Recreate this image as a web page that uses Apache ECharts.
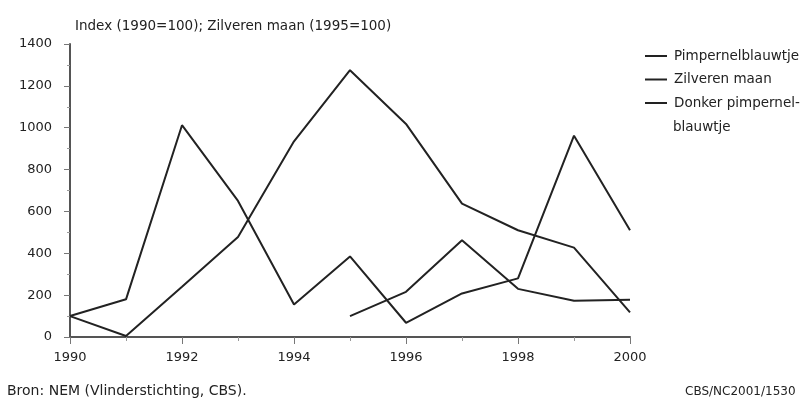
<!DOCTYPE html>
<html>
<head>
<meta charset="utf-8">
<script src="https://cdn.jsdelivr.net/npm/echarts@6/dist/echarts.min.js"></script>
<style>
    html, body { margin: 0; padding: 0; background: #fff; }
    #chart { width: 805px; height: 403px; }
</style>
</head>
<body>
<div id="chart"></div>
<script>
var years = [1990, 1991, 1992, 1993, 1994, 1995, 1996, 1997, 1998, 1999, 2000];
var pimpernel = [100, 180, 1012, 650, 155, 385, 68, 208, 280, 962, 510];
var donkerPimpernel = [100, 5, 240, 478, 935, 1275, 1018, 637, 510, 427, 118];
var zilverenYears = [1995, 1996, 1997, 1998, 1999, 2000];
var zilveren = [100, 216, 462, 230, 173, 178];
var seriesNames = ['Pimpernelblauwtje', 'Zilveren maan', 'Donker pimpernelblauwtje'];

function pairs(xs, ys) {
    return xs.map(function(x, i) { return [x, ys[i]]; });
}

var font = 'DejaVu Sans';
var chart = echarts.init(document.getElementById('chart'));

var lineStyle = { color: '#222', width: 2 };

var option = {
    animation: false,
    color: ['#222', '#222', '#222'],
    textStyle: { fontFamily: font },
    grid: { left: 70, right: 175, top: 44, bottom: 66 },
    title: {
        text: 'Index (1990=100); Zilveren maan (1995=100)',
        left: 70,
        top: 14,
        textStyle: { fontFamily: font, fontSize: 13.5, fontWeight: 'normal', color: '#222' }
    },
    legend: {
        orient: 'vertical',
        left: 640,
        top: 44,
        itemWidth: 22,
        itemHeight: 2,
        itemGap: 9.5,
        icon: 'rect',
        data: seriesNames,
        formatter: function(name) {
            return name === 'Donker pimpernelblauwtje' ? 'Donker pimpernel-' : name;
        },
        textStyle: { fontFamily: font, fontSize: 13.5, color: '#222', padding: [0, 0, 0, 2] }
    },
    graphic: [
        { type: 'text', left: 673, top: 120, style: { text: 'blauwtje', font: '13.5px ' + font, fill: '#222' } },
        { type: 'text', left: 7, top: 384, style: { text: 'Bron: NEM (Vlinderstichting, CBS).', font: '14px ' + font, fill: '#222' } },
        { type: 'text', left: 685, top: 386, style: { text: 'CBS/NC2001/1530', font: '12px ' + font, fill: '#222' } }
    ],
    xAxis: {
        type: 'value',
        min: 1990,
        max: 2000,
        interval: 2,
        splitLine: { show: false },
        axisLine: { lineStyle: { color: '#555', width: 2 } },
        axisTick: { length: 7, lineStyle: { color: '#777' } },
        minorTick: { show: true, splitNumber: 2, length: 4, lineStyle: { color: '#999' } },
        axisLabel: { fontFamily: font, fontSize: 13, color: '#222', margin: 14, formatter: function(v) { return String(v); } }
    },
    yAxis: {
        type: 'value',
        min: 0,
        max: 1400,
        interval: 200,
        splitLine: { show: false },
        axisLine: { show: true, lineStyle: { color: '#555', width: 2 } },
        axisTick: { show: true, length: 6, lineStyle: { color: '#777' } },
        minorTick: { show: true, splitNumber: 2, length: 3, lineStyle: { color: '#999' } },
        axisLabel: { fontFamily: font, fontSize: 13, color: '#222', margin: 18, formatter: function(v) { return String(v); } }
    },
    series: [{
        name: seriesNames[0],
        type: 'line',
        symbol: 'none',
        lineStyle: lineStyle,
        data: pairs(years, pimpernel)
    }, {
        name: seriesNames[1],
        type: 'line',
        symbol: 'none',
        lineStyle: lineStyle,
        data: pairs(zilverenYears, zilveren)
    }, {
        name: seriesNames[2],
        type: 'line',
        symbol: 'none',
        lineStyle: lineStyle,
        data: pairs(years, donkerPimpernel)
    }]
};

chart.setOption(option);

window.addEventListener('resize', function() {
    chart.resize();
});
</script>
</body>
</html>
